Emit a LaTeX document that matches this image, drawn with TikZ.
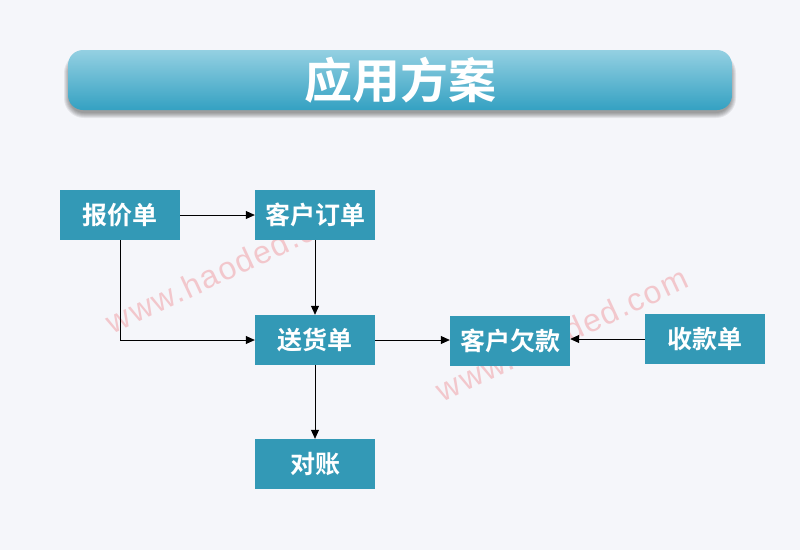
\documentclass[tikz,border=0pt]{standalone}
\usepackage{fontspec}
\setmainfont{Noto Sans CJK SC}[BoldFont={Noto Sans CJK SC Bold}]
\newfontfamily\wmfont{Liberation Sans}[LetterSpace=5]
\usetikzlibrary{arrows.meta}
\definecolor{bgc}{HTML}{F5F6FA}
\definecolor{boxc}{HTML}{3399B6}
\definecolor{titletop}{HTML}{94D0E2}
\definecolor{titlebot}{HTML}{34A1C2}
\definecolor{wmc}{HTML}{F2BFC4}
\tikzset{
  x=1pt,y=-1pt,
  stepbox/.style={fill=boxc,text=white,minimum width=120pt,minimum height=50pt,inner sep=0pt,font=\fontsize{25}{28}\selectfont\bfseries},
  conn/.style={draw=black,line width=0.8pt,-{Triangle[length=9pt,width=8pt]}},
  wmark/.style={text=wmc,opacity=0.85,font=\wmfont\fontsize{32}{36}\selectfont,rotate=25}
}
\begin{document}
\begin{tikzpicture}
\fill[bgc] (0,0) rectangle (800,550);
\useasboundingbox (0,0) rectangle (800,550);
% title bar shadow (soft, layered)
\foreach \k in {5,4,3,2,1,0}{
  \fill[black,opacity=0.07,rounded corners={15pt+\k pt}] (69-\k,58-\k) rectangle (731+\k,113+\k);
}
% title bar
\node[rounded corners=15pt,top color=titletop,bottom color=titlebot,minimum width=664pt,minimum height=60pt,inner sep=0pt,
      text=white,font=\fontsize{48}{52}\selectfont\bfseries] (title) at (400,80) {应用方案};
% watermarks
\node[wmark] (wm1) at (232,266) {www.haoded.com};
\node[wmark] (wm2) at (562,334) {www.haoded.com};
% boxes
\node[stepbox] (bjd) at (120,215) {报价单};
\node[stepbox] (khdd) at (315,215) {客户订单};
\node[stepbox] (shd) at (315,340) {送货单};
\node[stepbox] (khqk) at (510,341) {客户欠款};
\node[stepbox] (skd) at (705,339) {收款单};
\node[stepbox] (dz) at (315,464) {对账};
% connectors
\draw[conn] (bjd.east) -- (khdd.west);
\draw[conn] (khdd.south) -- (shd.north);
\draw[conn] (bjd.south) |- (shd.west);
\draw[conn] (shd.east) -- (shd.east -| khqk.west);
\draw[conn] (skd.west) -- (skd.west -| khqk.east);
\draw[conn] (shd.south) -- (dz.north);
\end{tikzpicture}
\end{document}
